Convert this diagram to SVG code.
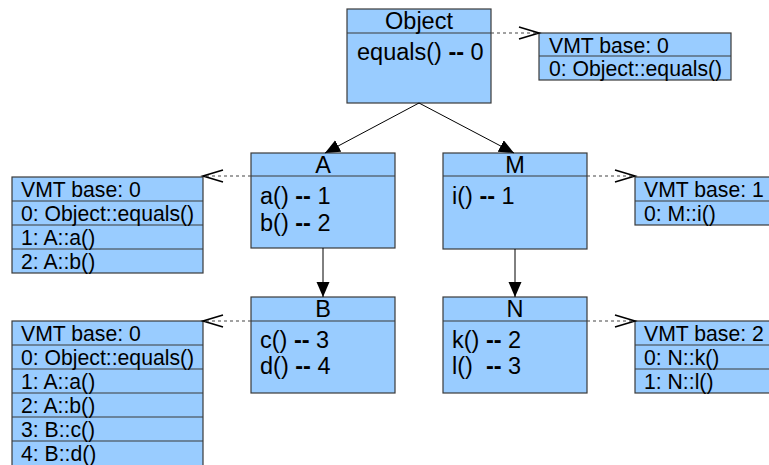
<svg xmlns="http://www.w3.org/2000/svg" width="769" height="465" viewBox="0 0 769 465">
  <style>
    .box { fill: #99ccff; stroke: #3a3a3a; stroke-width: 1.2; }
    .sep { stroke: #3a3a3a; stroke-width: 1.2; }
    .title { font-family: "Liberation Sans", Arial, sans-serif; font-size: 23.5px; fill: #000; text-anchor: middle; }
    .member { font-family: "Liberation Sans", Arial, sans-serif; font-size: 23.5px; fill: #000; }
    .vmt { font-family: "Liberation Sans", Arial, sans-serif; font-size: 21.2px; fill: #000; }
    .dash { font-weight: bold; }
    .inherit { stroke: #000; stroke-width: 1; fill: none; marker-end: url(#filled); }
    .ref { stroke: #444; stroke-width: 1.2; stroke-dasharray: 3 3; fill: none; marker-end: url(#open); }
  </style>
  <defs>
    <marker id="filled" markerUnits="userSpaceOnUse" markerWidth="16" markerHeight="14" refX="15" refY="6.5" orient="auto">
      <path d="M0,0 L15,6.5 L0,13 z" fill="#000"/>
    </marker>
    <marker id="open" markerUnits="userSpaceOnUse" markerWidth="24" markerHeight="16" refX="21" refY="7" orient="auto">
      <path d="M1,1 L21,7 L1,13" fill="none" stroke="#000" stroke-width="1.6"/>
    </marker>
  </defs>

  <!-- class boxes -->
  <g id="class-object">
    <rect class="box" x="347" y="9" width="144" height="94"/>
    <line class="sep" x1="347" y1="33" x2="491" y2="33"/>
    <text class="title" x="419" y="29">Object</text>
    <text class="member" x="357" y="60">equals() <tspan class="dash">--</tspan> 0</text>
  </g>

  <g id="class-a">
    <rect class="box" x="251" y="153" width="144" height="95"/>
    <line class="sep" x1="251" y1="176" x2="395" y2="176"/>
    <text class="title" x="323" y="173">A</text>
    <text class="member" x="260" y="204">a() <tspan class="dash">--</tspan> 1</text>
    <text class="member" x="260" y="231">b() <tspan class="dash">--</tspan> 2</text>
  </g>

  <g id="class-m">
    <rect class="box" x="443" y="153" width="144" height="96"/>
    <line class="sep" x1="443" y1="176" x2="587" y2="176"/>
    <text class="title" x="515" y="173">M</text>
    <text class="member" x="452" y="204">i() <tspan class="dash">--</tspan> 1</text>
  </g>

  <g id="class-b">
    <rect class="box" x="251" y="297" width="144" height="96"/>
    <line class="sep" x1="251" y1="321" x2="395" y2="321"/>
    <text class="title" x="323" y="317">B</text>
    <text class="member" x="260" y="348">c() <tspan class="dash">--</tspan> 3</text>
    <text class="member" x="260" y="374">d() <tspan class="dash">--</tspan> 4</text>
  </g>

  <g id="class-n">
    <rect class="box" x="443" y="297" width="144" height="96"/>
    <line class="sep" x1="443" y1="321" x2="587" y2="321"/>
    <text class="title" x="515" y="317">N</text>
    <text class="member" x="452" y="348">k() <tspan class="dash">--</tspan> 2</text>
    <text class="member" x="452" y="374" xml:space="preserve">l()  <tspan class="dash">--</tspan> 3</text>
  </g>

  <!-- virtual method tables -->
  <g id="vmt-object">
    <rect class="box" x="539" y="33" width="192" height="47"/>
    <line class="sep" x1="539" y1="56" x2="731" y2="56"/>
    <text class="vmt" x="549" y="53">VMT base: 0</text>
    <text class="vmt" x="549" y="76">0: Object::equals()</text>
  </g>

  <g id="vmt-a">
    <rect class="box" x="12" y="177" width="191" height="96"/>
    <line class="sep" x1="12" y1="201" x2="203" y2="201"/>
    <line class="sep" x1="12" y1="225" x2="203" y2="225"/>
    <line class="sep" x1="12" y1="249" x2="203" y2="249"/>
    <text class="vmt" x="21" y="197">VMT base: 0</text>
    <text class="vmt" x="21" y="221">0: Object::equals()</text>
    <text class="vmt" x="21" y="245">1: A::a()</text>
    <text class="vmt" x="21" y="269">2: A::b()</text>
  </g>

  <g id="vmt-m">
    <rect class="box" x="635" y="177" width="192" height="48"/>
    <line class="sep" x1="635" y1="201" x2="827" y2="201"/>
    <text class="vmt" x="644" y="197">VMT base: 1</text>
    <text class="vmt" x="644" y="221">0: M::i()</text>
  </g>

  <g id="vmt-b">
    <rect class="box" x="12" y="321" width="191" height="145"/>
    <line class="sep" x1="12" y1="345" x2="203" y2="345"/>
    <line class="sep" x1="12" y1="369" x2="203" y2="369"/>
    <line class="sep" x1="12" y1="393" x2="203" y2="393"/>
    <line class="sep" x1="12" y1="417" x2="203" y2="417"/>
    <line class="sep" x1="12" y1="441" x2="203" y2="441"/>
    <text class="vmt" x="21" y="341">VMT base: 0</text>
    <text class="vmt" x="21" y="365">0: Object::equals()</text>
    <text class="vmt" x="21" y="389">1: A::a()</text>
    <text class="vmt" x="21" y="413">2: A::b()</text>
    <text class="vmt" x="21" y="437">3: B::c()</text>
    <text class="vmt" x="21" y="461">4: B::d()</text>
  </g>

  <g id="vmt-n">
    <rect class="box" x="635" y="321" width="192" height="72"/>
    <line class="sep" x1="635" y1="345" x2="827" y2="345"/>
    <line class="sep" x1="635" y1="369" x2="827" y2="369"/>
    <text class="vmt" x="644" y="341">VMT base: 2</text>
    <text class="vmt" x="644" y="365">0: N::k()</text>
    <text class="vmt" x="644" y="389">1: N::l()</text>
  </g>

  <!-- connectors -->
  <g id="connectors">
    <line class="inherit" x1="419" y1="103" x2="325" y2="153"/>
    <line class="inherit" x1="419" y1="103" x2="514" y2="153"/>
    <line class="inherit" x1="323" y1="248" x2="323" y2="297"/>
    <line class="inherit" x1="515" y1="249" x2="515" y2="297"/>
    <line class="ref" x1="491" y1="33" x2="539" y2="33"/>
    <line class="ref" x1="251" y1="176" x2="203" y2="176"/>
    <line class="ref" x1="587" y1="176" x2="635" y2="176"/>
    <line class="ref" x1="251" y1="321" x2="203" y2="321"/>
    <line class="ref" x1="587" y1="321" x2="635" y2="321"/>
  </g>
</svg>
